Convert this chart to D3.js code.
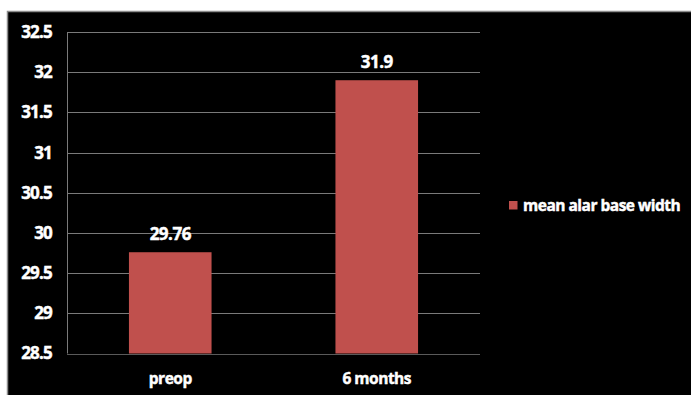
<!DOCTYPE html>
<html>
<head>
<meta charset="utf-8">
<script src="https://cdn.jsdelivr.net/npm/d3@7"></script>
<style>
  body { margin: 0; background: #fff; }
  svg text { font-family: "Open Sans", "DejaVu Sans", sans-serif; font-weight: bold; fill: #fff; stroke: #fff; stroke-width: 0.45px; }
</style>
</head>
<body>
<div id="chart"></div>
<script>
const categories = ['preop', '6 months'];
const values = [29.76, 31.9];
const seriesName = 'mean alar base width';
const yTicks = [28.5, 29, 29.5, 30, 30.5, 31, 31.5, 32, 32.5];

const W = 691, H = 395;
const margin = {left: 67, right: 211, top: 32, bottom: 41.5};

const svg = d3.select('#chart').append('svg')
    .attr('width', W)
    .attr('height', H);

// black chart area
svg.append('rect')
    .attr('x', 7.5).attr('y', 11.5)
    .attr('width', W).attr('height', H)
    .attr('fill', '#000')
    .attr('stroke', '#8c8c8c')
    .attr('stroke-width', 1.5);

const x = d3.scaleBand()
    .domain(categories)
    .range([margin.left, W - margin.right])
    .paddingInner(0.6)
    .paddingOuter(0.3);

const y = d3.scaleLinear()
    .domain([28.5, 32.5])
    .range([H - margin.bottom, margin.top]);

// gridlines
svg.append('g')
    .selectAll('line')
    .data(yTicks)
    .enter()
    .append('line')
    .attr('x1', margin.left).attr('x2', W - margin.right)
    .attr('y1', d => Math.round(y(d)) + 0.5).attr('y2', d => Math.round(y(d)) + 0.5)
    .attr('stroke', d => d === 28.5 ? '#5a5a5a' : '#7a7a7a')
    .attr('stroke-width', 1);

// y axis line
svg.append('line')
    .attr('x1', margin.left + 0.5).attr('x2', margin.left + 0.5)
    .attr('y1', y(32.5)).attr('y2', y(28.5))
    .attr('stroke', '#7a7a7a');

// y tick labels
svg.append('g')
    .selectAll('text')
    .data(yTicks)
    .enter()
    .append('text')
    .attr('x', 52)
    .attr('y', d => y(d))
    .attr('dy', '0.35em')
    .attr('text-anchor', 'end')
    .attr('font-size', 17)
    .attr('letter-spacing', -0.8)
    .text(d => d);

// bars
svg.append('g')
    .selectAll('rect')
    .data(values)
    .enter()
    .append('rect')
    .attr('x', (d, i) => x(categories[i]))
    .attr('y', d => y(d))
    .attr('width', x.bandwidth())
    .attr('height', d => y(28.5) - y(d))
    .attr('fill', '#C0504D');

// value labels
svg.append('g')
    .selectAll('text')
    .data(values)
    .enter()
    .append('text')
    .attr('x', (d, i) => x(categories[i]) + x.bandwidth() / 2)
    .attr('y', d => y(d) - 18)
    .attr('dy', '0.35em')
    .attr('text-anchor', 'middle')
    .attr('font-size', 17)
    .attr('letter-spacing', -0.5)
    .text(d => d);

// category labels
svg.append('g')
    .selectAll('text')
    .data(categories)
    .enter()
    .append('text')
    .attr('x', d => x(d) + x.bandwidth() / 2)
    .attr('y', 379)
    .attr('dy', '0.35em')
    .attr('text-anchor', 'middle')
    .attr('font-size', 15.5)
    .attr('letter-spacing', -0.5)
    .text(d => d);

// legend
const legend = svg.append('g').attr('transform', 'translate(509,201)');
legend.append('rect')
    .attr('width', 8.5).attr('height', 8.5)
    .attr('fill', '#C0504D');
legend.append('text')
    .attr('x', 14)
    .attr('y', 4.5)
    .attr('dy', '0.35em')
    .attr('font-size', 15.5)
    .attr('letter-spacing', -0.5)
    .text(seriesName);
</script>
</body>
</html>
